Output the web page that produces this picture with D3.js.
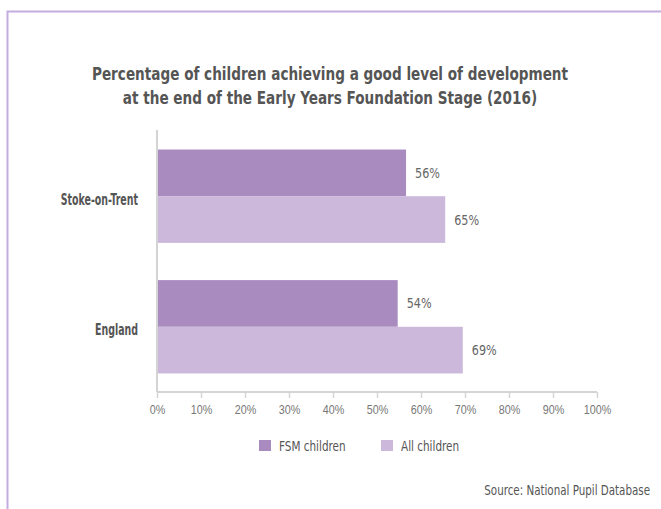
<!DOCTYPE html>
<html><head><meta charset="utf-8">
<script src="https://cdn.jsdelivr.net/npm/d3@7"></script>
<style>
html,body{margin:0;padding:0;background:#fff;}
svg{display:block;font-family:"DejaVu Sans Condensed","Liberation Sans",sans-serif;}
</style></head>
<body><svg id="c" width="661" height="509"></svg>
<script>
const categories = ["Stoke-on-Trent", "England"];
const seriesNames = ["FSM children", "All children"];
const fsmValues = [56.6, 54.7];
const allValues = [65.5, 69.5];
const fsmLabels = ["56%", "54%"];
const allLabels = ["65%", "69%"];
const tickValues = [0,10,20,30,40,50,60,70,80,90,100];
const titleLines = ["Percentage of children achieving a good level of development",
                    "at the end of the Early Years Foundation Stage (2016)"];
const sourceText = "Source: National Pupil Database";
const colors = ["#a98bc0", "#cbb8da"];

// narrow text: place at (x,y) with horizontal compression f
function narrow(parent, x, y, f, txt){
  return parent.append("g").attr("transform",`translate(${x},${y}) scale(${f},1)`)
    .append("text").attr("x",0).attr("y",0).text(txt);
}

const svg = d3.select("#c");
// frame
svg.append("path").attr("d","M7.5,509 V11.5 H661").attr("fill","none")
  .attr("stroke","#c3ace0").attr("stroke-width",2);

// title
titleLines.forEach((t,i)=>{
  narrow(svg, 330, 80+i*24, 0.84, t).attr("text-anchor","middle")
    .attr("fill","#555").attr("font-weight","bold").attr("font-size",18);
});

const pL=157, pR=597, pT=131, pB=392;
const x = d3.scaleLinear().domain([0,100]).range([pL,pR]);
const y0 = d3.scaleBand().domain(categories).range([pT,pB]).paddingInner(0.285).paddingOuter(0.142);
const y1 = d3.scaleBand().domain(seriesNames).range([0,y0.bandwidth()]);

const rows = categories.map((c,i)=>({c, vals:[
  {s:seriesNames[0], v:fsmValues[i], l:fsmLabels[i]},
  {s:seriesNames[1], v:allValues[i], l:allLabels[i]}]}));

const g = svg.append("g");
rows.forEach(r=>{
  const grp = g.append("g").attr("transform",`translate(0,${y0(r.c)})`);
  r.vals.forEach((d,i)=>{
    grp.append("rect").attr("x",x(0)).attr("y",y1(d.s)).attr("height",y1.bandwidth())
      .attr("width",x(d.v)-x(0)).attr("fill",colors[i]);
    narrow(grp, x(d.v)+9, y1(d.s)+y1.bandwidth()/2+5, 0.86, d.l)
      .attr("font-size",14.5).attr("fill","#666");
  });
  narrow(svg, 138, y0(r.c)+y0.bandwidth()/2+8.5, 0.7, r.c).attr("text-anchor","end")
    .attr("font-weight","bold").attr("font-size",15).attr("fill","#555");
});

// axes
const xAxis = d3.axisBottom(x).tickValues(tickValues).tickSize(6).tickFormat(d=>d+"%");
const ax = svg.append("g").attr("transform",`translate(0,${pB})`).call(xAxis);
ax.select(".domain").attr("stroke","#d4d4d4").attr("stroke-width",2).attr("d",`M${pL},0H${pR}`);
ax.selectAll(".tick line").attr("stroke","#d4d4d4").attr("stroke-width",1.5);
ax.selectAll(".tick text").attr("fill","#777").attr("font-size",12.5).attr("y",13)
  .attr("font-family","inherit").attr("transform","scale(0.86,1)");
svg.append("line").attr("x1",pL).attr("x2",pL).attr("y1",pT-1).attr("y2",pB)
  .attr("stroke","#d4d4d4").attr("stroke-width",2);

// legend
const legX = [259, 381];
seriesNames.forEach((s,i)=>{
  const lg = svg.append("g").attr("transform",`translate(${legX[i]},440)`);
  lg.append("rect").attr("width",12).attr("height",11).attr("fill",colors[i]);
  narrow(lg, 20, 11, 0.86, s).attr("font-size",13.5).attr("fill","#555");
});

narrow(svg, 650, 495, 0.85, sourceText).attr("text-anchor","end")
  .attr("font-size",13.5).attr("fill","#555");
</script></body></html>
